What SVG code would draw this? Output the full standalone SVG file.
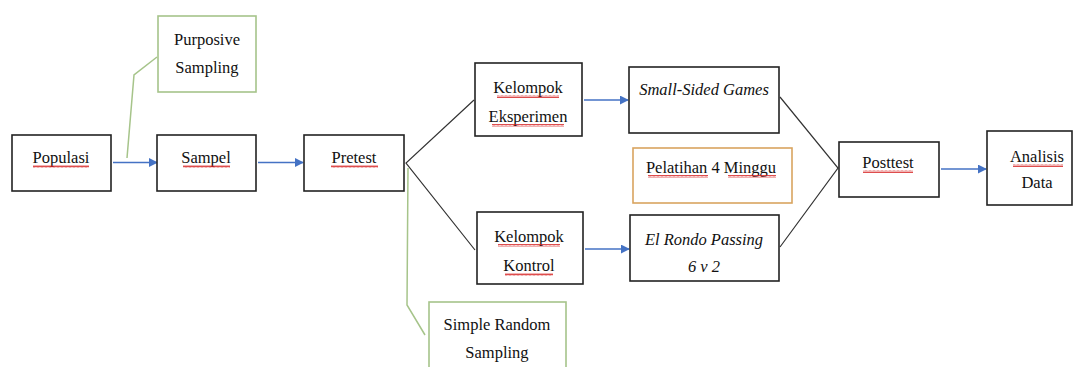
<svg xmlns="http://www.w3.org/2000/svg" width="1075" height="367" viewBox="0 0 1075 367" font-family="'Liberation Serif', 'Times New Roman', serif">
<style>
.box{fill:#fff;stroke:#222;stroke-width:1.6}
.gbox{fill:#fff;stroke:#a6c48a;stroke-width:1.6}
.obox{fill:#fff;stroke:#d9a45f;stroke-width:1.6}
text{font-family:'Liberation Serif','Times New Roman',serif;font-size:16.5px;fill:#111;text-anchor:middle}
.i{font-style:italic}
.arr{stroke:#4472c4;stroke-width:1.5;fill:none;marker-end:url(#ah)}
.ln{stroke:#333;stroke-width:1.2;fill:none}
.gl{stroke:#a6c48a;stroke-width:1.5;fill:none}
.sq{fill:url(#wave)}
</style>
<defs>
<marker id="ah" viewBox="0 0 10 10" refX="9" refY="5" markerWidth="6" markerHeight="6" orient="auto" markerUnits="strokeWidth">
<path d="M0,0 L10,5 L0,10 z" fill="#4472c4"/>
</marker>
<pattern id="wave" width="4" height="3" patternUnits="userSpaceOnUse">
<path d="M0,2.5 L1,0.5 L2,2.5 L3,0.5 L4,2.5" stroke="#d62020" stroke-width="0.8" fill="none"/>
</pattern>
</defs>
<rect width="1075" height="367" fill="#fff"/>
<g id="connectors">
<line class="arr" x1="113" y1="162.5" x2="157" y2="162.5"/>
<line class="arr" x1="258" y1="162.5" x2="303" y2="162.5"/>
<line class="arr" x1="584" y1="100" x2="628" y2="100"/>
<line class="arr" x1="585" y1="249" x2="629" y2="249"/>
<line class="arr" x1="941" y1="169" x2="986" y2="169"/>
<polyline class="ln" points="474,100 406,163 475,250"/>
<polyline class="ln" points="780,97 838,168 780,247"/>
<polyline class="gl" points="127,158 134,75 157,57"/>
<polyline class="gl" points="408,168 407,305 425,335"/>
</g>
<g id="populasi"><rect class="box" x="12" y="135" width="99" height="56"/><text x="61" y="163">Populasi</text><rect class="sq" x="33" y="165" width="56" height="3"/></g>
<g id="sampel"><rect class="box" x="157" y="135" width="99" height="56"/><text x="206" y="163">Sampel</text><rect class="sq" x="183" y="165" width="47" height="3"/></g>
<g id="pretest"><rect class="box" x="304" y="135" width="100" height="56"/><text x="354" y="163">Pretest</text><rect class="sq" x="331" y="165" width="47" height="3"/></g>
<g id="purposive"><rect class="gbox" x="158" y="16" width="98" height="76"/><text x="207" y="45">Purposive</text><text x="207" y="73">Sampling</text></g>
<g id="eksperimen"><rect class="box" x="475" y="63" width="107" height="73"/><text x="528" y="93">Kelompok</text><text x="528" y="122">Eksperimen</text><rect class="sq" x="497" y="95" width="62" height="3"/><rect class="sq" x="492" y="124" width="72" height="3"/></g>
<g id="kontrol"><rect class="box" x="477" y="212" width="106" height="72"/><text x="529" y="242">Kelompok</text><text x="529" y="271">Kontrol</text><rect class="sq" x="498" y="244" width="62" height="3"/><rect class="sq" x="505" y="273" width="48" height="3"/></g>
<g id="ssg"><rect class="box" x="629" y="67" width="150" height="66"/><text class="i" x="704" y="95">Small-Sided Games</text></g>
<g id="pelatihan"><rect class="obox" x="633" y="148" width="159" height="55"/><text x="711" y="173">Pelatihan 4 Minggu</text><rect class="sq" x="648" y="175" width="60" height="3"/><rect class="sq" x="728" y="175" width="48" height="3"/></g>
<g id="elrondo"><rect class="box" x="630" y="215" width="149" height="66"/><text class="i" x="704" y="245">El Rondo Passing</text><text class="i" x="704" y="272">6 v 2</text></g>
<g id="simplerandom"><rect class="gbox" x="429" y="302" width="137" height="70"/><text x="497" y="330">Simple Random</text><text x="497" y="358">Sampling</text></g>
<g id="posttest"><rect class="box" x="839" y="142" width="100" height="55"/><text x="888" y="168">Posttest</text><rect class="sq" x="863" y="170" width="50" height="3"/></g>
<g id="analisis"><rect class="box" x="987" y="131" width="85" height="74"/><text x="1037" y="162">Analisis</text><text x="1037" y="188">Data</text><rect class="sq" x="1013" y="164" width="50" height="3"/></g>
</svg>
